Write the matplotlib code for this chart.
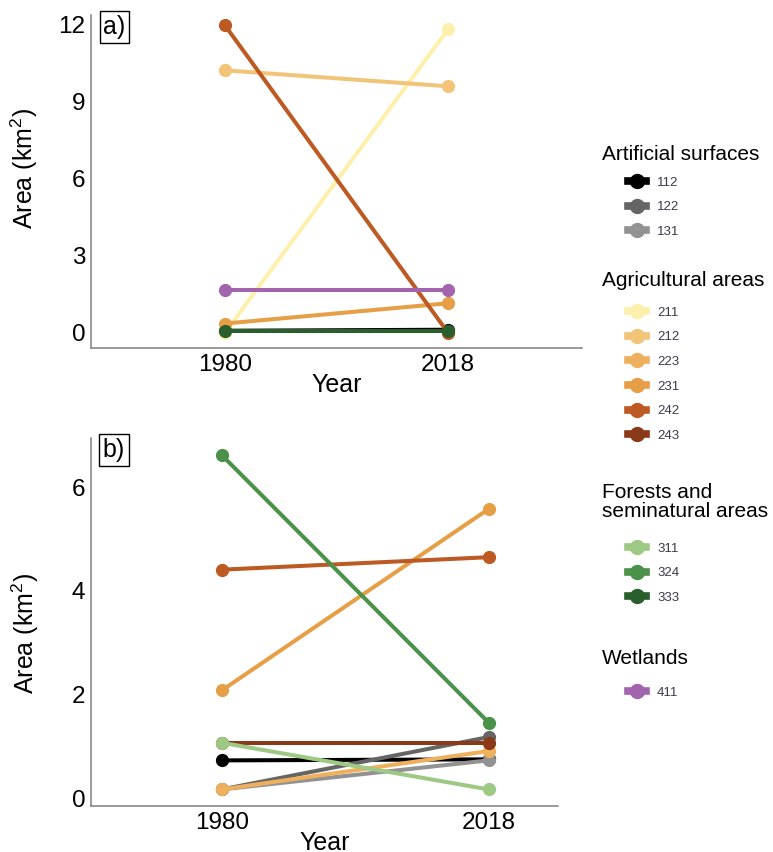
import numpy as np
import matplotlib
matplotlib.use('Agg')
import matplotlib.pyplot as plt
from matplotlib.lines import Line2D

plt.rcParams['font.family'] = ['Liberation Sans', 'DejaVu Sans']
plt.rcParams['mathtext.fontset'] = 'custom'
plt.rcParams['mathtext.rm'] = 'Liberation Sans'
plt.rcParams['mathtext.it'] = 'Liberation Sans'

years = ['1980', '2018']
codes = ['112', '122', '131', '211', '212', '223', '231', '242', '243', '311', '324', '333', '411']
colors = ['#000000', '#656565', '#929292', '#fdf0ac', '#f2c477', '#eeb05c', '#e69f47',
          '#bd5a24', '#8b3a19', '#9ec984', '#4a914a', '#285f2d', '#a265ad']
nan = np.nan
# panel a) values (km2) for 1980 and 2018
a_1980 = [0.08, nan, nan, 0.0, 10.2, nan, 0.36, 11.95, nan, nan, nan, 0.08, 1.66]
a_2018 = [0.12, nan, nan, 11.8, 9.58, nan, 1.15, 0.0, nan, nan, nan, 0.08, 1.66]
# panel b) values
b_1980 = [0.73, 0.17, 0.17, nan, nan, 0.17, 2.08, 4.41, 1.06, 1.07, 6.62, nan, nan]
b_2018 = [0.75, 1.18, 0.73, nan, nan, 0.91, 5.58, 4.65, 1.06, 0.17, 1.46, nan, nan]

groups = [('Artificial surfaces', ['112', '122', '131']),
          ('Agricultural areas', ['211', '212', '223', '231', '242', '243']),
          ('Forests and\nseminatural areas', ['311', '324', '333']),
          ('Wetlands', ['411'])]

W, H = 773, 852
fig = plt.figure(figsize=(W / 100, H / 100), dpi=100)


def px_ax(l, t, r, b):
    return fig.add_axes([l / W, 1 - b / H, (r - l) / W, (b - t) / H])


def panel(ax, v0, v1, yticks, ylim, xlim, tag, label_xy):
    x = np.arange(len(years))
    for c, col, s, e in zip(codes, colors, v0, v1):
        if np.isnan(s):
            continue
        ax.plot(x, [s, e], color=col, lw=2.9, marker='o', ms=8.5, solid_capstyle='butt')
    ax.set_xticks(x)
    ax.set_xticklabels(years)
    ax.set_yticks(yticks)
    ax.set_xlim(*xlim)
    ax.set_ylim(*ylim)
    for sp in ['top', 'right']:
        ax.spines[sp].set_visible(False)
    for sp in ['left', 'bottom']:
        ax.spines[sp].set_color('#7f7f7f')
        ax.spines[sp].set_linewidth(1.1)
    ax.tick_params(length=0, labelsize=17.5, pad=4)
    ax.set_xlabel('Year', fontsize=18, labelpad=-2)
    ax.set_ylabel('Area (km$^2$)', fontsize=18)
    ax.yaxis.set_label_coords(*label_xy)
    ax.text(0.025, 1.0, tag, transform=ax.transAxes, fontsize=18, va='top', ha='left',
            clip_on=False, bbox=dict(boxstyle='square,pad=0.15', fc='white', ec='black', lw=1))


ax1 = px_ax(91, 15, 582, 348)
panel(ax1, a_1980, a_2018, [0, 3, 6, 9, 12], (-0.59, 12.35), (-0.6, 1.6), 'a)', (-0.104, 0.54))
ax2 = px_ax(91, 438, 558, 806)
panel(ax2, b_1980, b_2018, [0, 2, 4, 6], (-0.15, 6.95), (-0.49, 1.26), 'b)', (-0.108, 0.47))

# legends
title_y = [155, 281, 502, 658]
entry_y = [183, 313, 549, 693]
for (title, members), ty, ey in zip(groups, title_y, entry_y):
    fig.text(602 / W, 1 - ty / H, title, fontsize=15, va='center', ha='left', linespacing=1.0)
    handles = [Line2D([], [], color=colors[codes.index(m)], lw=5.5, marker='o', ms=10)
               for m in members]
    fig.legend(handles, members, loc='upper left', bbox_to_anchor=(628 / W, 1 - (ey - 6.5) / H),
               frameon=False, fontsize=9.5, handlelength=1.4, handletextpad=0.8,
               labelspacing=0.94, borderpad=0, borderaxespad=0, labelcolor='#3a3a4c')

fig.savefig('out.png', dpi=100)
